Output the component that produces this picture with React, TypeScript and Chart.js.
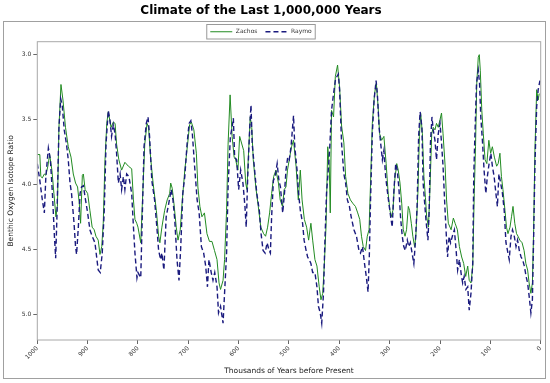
import React, { useEffect, useRef } from 'react';
import { Chart, registerables } from 'chart.js';

Chart.register(...registerables);

const chartTitle = 'Climate of the Last 1,000,000 Years';
const seriesNames = ['Zachos', 'Raymo'];
const seriesColors = ['#228B22', '#1a1a7e'];
const xAxisTitle = 'Thousands of Years before Present';
const yAxisTitle = 'Benthic Oxygen Isotope Ratio';
const xTickValues = [1000, 900, 800, 700, 600, 500, 400, 300, 200, 100, 0];
const yTickValues = [3.0, 3.5, 4.0, 4.5, 5.0];

// [thousands of years before present, isotope ratio]
const zachosData: [number, number][] = [
  [1000, 3.77], [995, 3.77], [993, 3.94], [990, 3.95], [986, 3.92], [983, 3.93], [979, 3.86], [975.5, 3.77],
  [971, 3.89], [967, 4.07], [963, 4.25], [960, 4.17], [957, 3.56], [953, 3.23], [949, 3.35], [944, 3.56],
  [938.5, 3.71], [933, 3.79], [928.5, 3.92], [924, 3.99], [920, 4.02], [916.5, 4.15], [914, 4.30], [910.5, 3.93],
  [908.5, 3.92], [905, 4.04], [900, 4.07], [895.5, 4.20], [891, 4.33], [887, 4.35], [883.5, 4.40], [879, 4.43],
  [875.5, 4.54], [872, 4.48], [869, 4.30], [865.5, 3.81], [862, 3.53], [859, 3.44], [853.5, 3.56], [849, 3.52],
  [845.5, 3.53], [842.5, 3.69], [838, 3.81], [832.5, 3.89], [826, 3.83], [819, 3.86], [812.5, 3.88], [809, 4.12],
  [806, 4.27], [802.5, 4.30], [800, 4.33], [794.5, 4.45], [790.5, 4.07], [786.5, 3.69], [782, 3.53], [779, 3.56],
  [775, 3.79], [770, 3.99], [763.5, 4.20], [759, 4.40], [756.5, 4.45], [752.5, 4.33], [747, 4.20], [742, 4.12],
  [737, 4.07], [735, 3.99], [732, 4.03], [728.5, 4.15], [724, 4.33], [720.5, 4.43], [716, 4.35], [712.5, 4.15],
  [707, 3.89], [702, 3.71], [697.5, 3.54], [694, 3.52], [689, 3.58], [684, 3.76], [681, 4.02], [677, 4.17],
  [673, 4.25], [668, 4.22], [663, 4.38], [658, 4.44], [653, 4.44], [648, 4.51], [643, 4.58], [639, 4.76],
  [636, 4.81], [631, 4.74], [628, 4.58], [624, 4.20], [621, 3.69], [617, 3.31], [613, 3.63], [609, 3.79],
  [606, 3.81], [601.5, 3.89], [598, 3.63], [590, 3.74], [586, 3.99], [583.5, 4.04], [581, 3.81], [577, 3.48],
  [574, 3.56], [571, 3.81], [566, 4.02], [561, 4.17], [556, 4.33], [550.5, 4.38], [546.5, 4.40], [542.5, 4.33],
  [538.5, 4.22], [534.5, 4.07], [530.5, 3.94], [526, 3.89], [521, 3.99], [517.5, 4.12], [513, 4.17], [509.5, 4.04],
  [506, 4.02], [503, 3.89], [499.5, 3.81], [495, 3.71], [491, 3.66], [486, 3.86], [481.5, 4.12], [477.5, 3.89],
  [474, 4.12], [469.5, 4.27], [465, 4.33], [461, 4.43], [456.5, 4.30], [453, 4.43], [448.5, 4.58], [444.5, 4.63],
  [440, 4.79], [436.5, 4.89], [433, 4.84], [430, 4.63], [426.5, 4.33], [423, 3.71], [420, 3.86], [418, 4.22],
  [415.5, 3.43], [411.5, 3.48], [408, 3.17], [403.5, 3.08], [399.5, 3.25], [395.5, 3.55], [391, 3.68], [387.5, 3.94],
  [383, 4.07], [378, 4.12], [372.5, 4.15], [368, 4.17], [363.5, 4.22], [359.5, 4.27], [356, 4.40], [352.5, 4.48],
  [348, 4.51], [344.5, 4.40], [341, 4.35], [338, 3.99], [334.5, 3.53], [330, 3.30], [326.5, 3.22], [323, 3.40],
  [320, 3.61], [316, 3.66], [311.5, 3.63], [307, 3.84], [303, 4.07], [299.5, 4.20], [297, 4.25], [293.5, 4.20],
  [290, 3.97], [286, 3.84], [283, 3.89], [279.5, 3.99], [276, 4.15], [273, 4.35], [269.5, 4.40], [266.5, 4.35],
  [263, 4.17], [260.5, 4.20], [257, 4.30], [254, 4.40], [250.5, 4.48], [248, 4.40], [244, 4.07], [241, 3.63],
  [238.5, 3.45], [235, 3.61], [232, 3.94], [229, 4.10], [226.5, 4.25], [223, 4.33], [220, 4.04], [216.5, 3.61],
  [213.5, 3.56], [210, 3.58], [207, 3.53], [203.5, 3.56], [200, 3.50], [197, 3.45], [194, 3.61], [190, 3.85],
  [187, 4.12], [183.5, 4.30], [178, 4.35], [173.5, 4.26], [170, 4.30], [165.5, 4.35], [161.5, 4.48], [157, 4.56],
  [153, 4.61], [149, 4.71], [145, 4.63], [142, 4.74], [138.5, 4.76], [135, 4.63], [132, 4.07], [129.5, 3.71],
  [127, 3.22], [124, 3.02], [122, 3.00], [120, 3.12], [117, 3.43], [114, 3.61], [110.5, 3.81], [107, 3.84],
  [103, 3.66], [99.5, 3.76], [96, 3.71], [92, 3.79], [87.5, 3.86], [84.5, 3.84], [81, 3.76], [78, 3.94],
  [75, 4.04], [71, 4.20], [68, 4.33], [65, 4.38], [61, 4.33], [58, 4.25], [55, 4.17], [51.5, 4.30],
  [48, 4.38], [45, 4.40], [41.5, 4.43], [37, 4.45], [33, 4.51], [29.5, 4.61], [26, 4.66], [23, 4.76],
  [19.5, 4.84], [16.5, 4.76], [14, 4.35], [11.5, 3.74], [8, 3.27], [5, 3.35], [3, 3.30],
];

const raymoData: [number, number][] = [
  [1000, 3.84], [995, 3.97], [990, 4.12], [986, 4.22], [983, 3.94], [978, 3.72], [974, 3.81], [970, 4.07],
  [966, 4.40], [963.5, 4.57], [961, 4.25], [957, 3.56], [953.5, 3.34], [950.5, 3.39], [946.5, 3.58], [942, 3.69],
  [938.5, 3.81], [935, 3.99], [932, 4.07], [927, 4.30], [924, 4.48], [922, 4.54], [918.5, 4.33], [915, 4.07],
  [912, 4.02], [908.5, 4.01], [905, 4.10], [900, 4.22], [895.5, 4.35], [891, 4.40], [885.5, 4.45], [881.5, 4.58],
  [879, 4.66], [875, 4.68], [871, 4.53], [867, 4.20], [863.5, 3.69], [859, 3.43], [855.5, 3.51], [852.5, 3.63],
  [849, 3.54], [845.5, 3.61], [842.5, 3.76], [839, 3.99], [835.5, 3.92], [832.5, 4.04], [829, 3.94], [826, 4.04],
  [822.5, 3.92], [818, 3.94], [812.5, 4.07], [809, 4.33], [806, 4.53], [802, 4.72], [800, 4.68], [794.5, 4.72],
  [792, 4.33], [788, 3.71], [783.5, 3.53], [780, 3.48], [777, 3.63], [772.5, 3.97], [767, 4.12], [762.5, 4.33],
  [759, 4.51], [755, 4.58], [752.5, 4.53], [748.5, 4.66], [744, 4.25], [739, 4.15], [734, 4.04], [730.5, 4.12],
  [727, 4.27], [722.5, 4.58], [718.5, 4.74], [715, 4.48], [711, 4.07], [707, 3.94], [702.5, 3.69], [698.5, 3.53],
  [695, 3.51], [692, 3.61], [687.5, 3.86], [682.5, 4.12], [678.5, 4.22], [674, 4.48], [669.5, 4.53], [665.5, 4.63],
  [662, 4.79], [659, 4.58], [654.5, 4.68], [651, 4.74], [647.5, 4.68], [643, 4.79], [640, 4.99], [636, 4.94],
  [631, 5.07], [628, 4.84], [624, 4.53], [621, 4.02], [616.5, 3.63], [613, 3.56], [610.5, 3.49], [608, 3.79],
  [604, 3.81], [600, 4.04], [596, 3.89], [591.5, 3.99], [587.5, 4.17], [585, 4.33], [582, 3.94], [578, 3.56],
  [575.5, 3.39], [573, 3.69], [569, 3.86], [564, 4.07], [559, 4.20], [555.5, 4.38], [551.5, 4.51], [547.5, 4.53],
  [543.5, 4.45], [539.5, 4.51], [537, 4.53], [534.5, 4.25], [531, 3.97], [527.5, 3.94], [523.5, 3.84], [520, 3.97],
  [517, 4.02], [512.5, 4.22], [509, 4.07], [506, 3.89], [502.5, 3.79], [499.5, 3.81], [496, 3.71], [491, 3.47],
  [488.5, 3.71], [484, 3.89], [481, 4.07], [477.5, 4.20], [473, 4.30], [470, 4.43], [466, 4.51], [463, 4.56],
  [460, 4.58], [456.5, 4.61], [453, 4.68], [448.5, 4.68], [444.5, 4.79], [441.5, 4.94], [438, 4.99], [435, 5.07],
  [431.5, 4.84], [429, 4.48], [425.5, 4.07], [422, 3.89], [419, 3.71], [415.5, 3.43], [411.5, 3.30], [408, 3.20],
  [405, 3.17], [402, 3.15], [399.5, 3.27], [395.5, 3.69], [391, 3.92], [387.5, 3.99], [384, 4.12], [380, 4.17],
  [376.5, 4.25], [371, 4.35], [366, 4.40], [361, 4.51], [358, 4.53], [354, 4.48], [350, 4.61], [346.5, 4.71],
  [343, 4.83], [340.5, 4.56], [338, 4.12], [334.5, 3.61], [331, 3.35], [327, 3.20], [324.5, 3.30], [321, 3.56],
  [318, 3.68], [314.5, 3.81], [311.5, 3.74], [308, 3.94], [305, 4.04], [301.5, 4.15], [298, 4.25], [295, 4.33],
  [291.5, 4.04], [288, 3.84], [285, 3.89], [281.5, 4.04], [278.5, 4.25], [275, 4.40], [272, 4.48], [269, 4.51],
  [265, 4.43], [262, 4.48], [259, 4.45], [255.5, 4.53], [252, 4.61], [249, 4.45], [245.5, 4.17], [242.5, 3.63],
  [239.5, 3.44], [236, 3.56], [233.5, 3.99], [231, 4.12], [228, 4.27], [224, 4.43], [221.5, 4.20], [219, 3.68],
  [216, 3.48], [213.5, 3.58], [210, 3.66], [207, 3.81], [203.5, 3.61], [200, 3.53], [197, 3.68], [194, 3.86],
  [190, 4.20], [187, 4.43], [185, 4.56], [182, 4.40], [179, 4.45], [175.5, 4.40], [171.5, 4.35], [168, 4.51],
  [165, 4.66], [161.5, 4.58], [158, 4.69], [155, 4.76], [152, 4.71], [148.5, 4.81], [145, 4.79], [142, 4.97],
  [138.5, 4.84], [135, 4.61], [133, 3.94], [131, 3.66], [127.5, 3.22], [124, 3.12], [121.5, 3.22], [119, 3.48],
  [115.5, 3.68], [112.5, 3.89], [109, 4.07], [106, 3.94], [102.5, 3.84], [99, 3.76], [96, 3.86], [92.5, 3.94],
  [89, 4.07], [86, 4.17], [83, 3.92], [79.5, 3.99], [76, 4.07], [72.5, 4.20], [69, 4.45], [66, 4.51],
  [62.5, 4.58], [59, 4.40], [56, 4.35], [52.5, 4.40], [49, 4.48], [46, 4.43], [42.5, 4.51], [39, 4.56],
  [36, 4.58], [32.5, 4.63], [29, 4.71], [26, 4.76], [23, 4.86], [19.5, 4.99], [16.5, 4.89], [14, 4.40],
  [11.5, 3.86], [8, 3.40], [5, 3.27], [1.5, 3.20],
];

const FONT = '"DejaVu Sans", Verdana, sans-serif';

const decorPlugin = {
  id: 'decor',
  beforeDraw(chart: any) {
    const ctx = chart.ctx;
    ctx.save();
    ctx.fillStyle = '#ffffff';
    ctx.fillRect(0, 0, chart.width, chart.height);
    ctx.strokeStyle = '#a0a0a0';
    ctx.lineWidth = 1;
    ctx.strokeRect(3.5, 21.5, 542, 357);
    ctx.restore();
  },
  afterDraw(chart: any) {
    const ctx = chart.ctx;
    const a = chart.chartArea;
    ctx.save();
    // plot border
    ctx.strokeStyle = '#a8a8a8';
    ctx.lineWidth = 1;
    ctx.strokeRect(a.left, a.top, a.right - a.left, a.bottom - a.top);
    // title
    const cx = 261;
    ctx.fillStyle = '#000';
    ctx.font = `bold 12px ${FONT}`;
    ctx.textAlign = 'center';
    ctx.textBaseline = 'middle';
    ctx.fillText(chartTitle, cx, 10.5);
    // legend
    ctx.font = `6px ${FONT}`;
    const lineW = 22;
    const gap = 3.5;
    const itemGap = 8;
    const pad = 3.5;
    const widths = seriesNames.map((n) => ctx.measureText(n).width);
    const total = pad * 2 + widths.reduce((s, w) => s + lineW + gap + w, 0) + itemGap * (seriesNames.length - 1);
    const left = cx - total / 2;
    const top = 24.5;
    const h = 14.5;
    ctx.strokeStyle = '#999';
    ctx.strokeRect(left, top, total, h);
    let x = left + pad;
    const y = top + h / 2;
    seriesNames.forEach((n, i) => {
      ctx.beginPath();
      ctx.strokeStyle = seriesColors[i];
      ctx.lineWidth = i === 0 ? 1 : 1.4;
      ctx.setLineDash(i === 0 ? [] : [5, 3]);
      ctx.moveTo(x, y);
      ctx.lineTo(x + lineW, y);
      ctx.stroke();
      ctx.setLineDash([]);
      x += lineW + gap;
      ctx.fillStyle = '#333';
      ctx.textAlign = 'left';
      ctx.fillText(n, x, y);
      x += widths[i] + itemGap;
    });
    ctx.restore();
  },
};

export default function App() {
  const ref = useRef<HTMLCanvasElement | null>(null);
  useEffect(() => {
    document.body.style.margin = '0';
    if (!ref.current) return;
    const chart = new Chart(ref.current, {
      type: 'line',
      data: {
        datasets: [
          {
            label: seriesNames[0],
            data: zachosData.map(([x, y]) => ({ x, y })),
            borderColor: seriesColors[0],
            backgroundColor: seriesColors[0],
            borderWidth: 1,
            pointRadius: 0,
            fill: false,
            tension: 0,
            order: 1,
          },
          {
            label: seriesNames[1],
            data: raymoData.map(([x, y]) => ({ x, y })),
            borderColor: seriesColors[1],
            backgroundColor: seriesColors[1],
            borderWidth: 1.4,
            borderDash: [5, 3],
            pointRadius: 0,
            fill: false,
            tension: 0,
            order: 0,
          },
        ],
      },
      options: {
        responsive: false,
        animation: false,
        events: [],
        layout: { padding: { top: 41.7, right: 9.3, bottom: 0, left: 0 } },
        plugins: {
          legend: { display: false },
          title: { display: false },
          tooltip: { enabled: false },
        },
        scales: {
          x: {
            type: 'linear',
            min: 0,
            max: 1000,
            reverse: true,
            afterBuildTicks: (s: any) => {
              s.ticks = xTickValues.map((v) => ({ value: v }));
            },
            afterFit: (s: any) => {
              s.height = 43;
            },
            ticks: {
              autoSkip: false,
              minRotation: 45,
              maxRotation: 45,
              padding: 1,
              color: '#333',
              font: { family: FONT, size: 6 },
              callback: (v: any) => String(v),
            },
            grid: { drawOnChartArea: false, drawTicks: true, tickLength: 4, color: '#666' },
            border: { display: false },
            title: {
              display: true,
              text: xAxisTitle,
              color: '#222',
              font: { family: FONT, size: 7.5 },
              padding: { top: 0, bottom: 7.5 },
            },
          },
          y: {
            type: 'linear',
            min: 2.9,
            max: 5.2,
            reverse: true,
            afterBuildTicks: (s: any) => {
              s.ticks = yTickValues.map((v) => ({ value: v }));
            },
            afterFit: (s: any) => {
              s.width = 37.3;
            },
            ticks: {
              padding: 2,
              color: '#333',
              font: { family: FONT, size: 6 },
              callback: (v: any) => Number(v).toFixed(1),
            },
            grid: { drawOnChartArea: false, drawTicks: true, tickLength: 4, color: '#666' },
            border: { display: false },
            title: {
              display: true,
              text: yAxisTitle,
              color: '#222',
              font: { family: FONT, size: 7.5 },
              padding: { top: 7, bottom: 0 },
            },
          },
        },
      },
      plugins: [decorPlugin],
    });
    return () => chart.destroy();
  }, []);
  return (
    <div style={{ width: 550, height: 383 }}>
      <canvas ref={ref} width={550} height={383} />
    </div>
  );
}
